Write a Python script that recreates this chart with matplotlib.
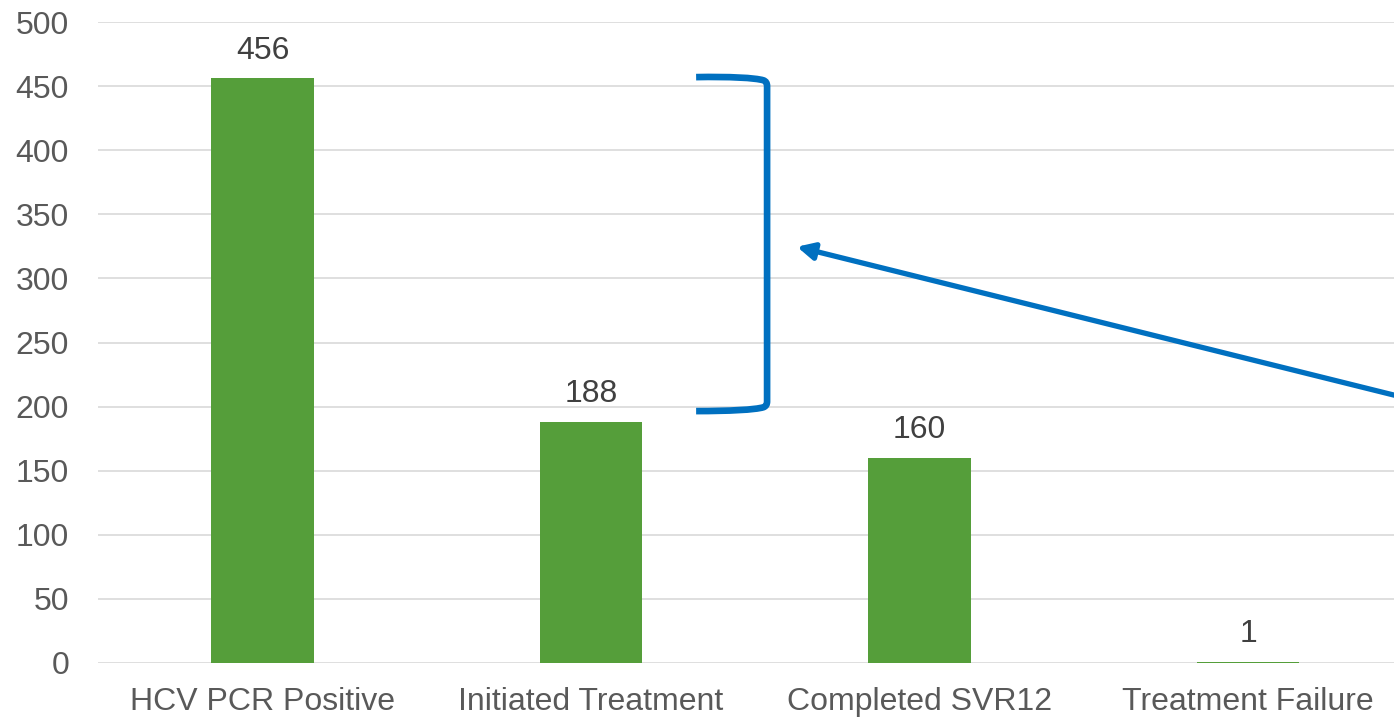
import numpy as np
import matplotlib
matplotlib.use('Agg')
import matplotlib.pyplot as plt
from matplotlib.path import Path
from matplotlib.patches import PathPatch

plt.rcParams['font.family'] = ['Liberation Sans', 'DejaVu Sans']

# cascade of care counts
categories = ['HCV PCR Positive', 'Initiated Treatment', 'Completed SVR12', 'Treatment Failure']
counts = [456, 188, 160, 1]
yticks = [0, 50, 100, 150, 200, 250, 300, 350, 400, 450, 500]

bar_color = '#559E3A'
blue = '#0070C0'

fig = plt.figure(figsize=(13.94, 7.18), dpi=100)
ax = fig.add_axes([98.25 / 1394, 55 / 718, 1314 / 1394, 641 / 718])

x = np.arange(len(categories))
bars = ax.bar(x, counts, width=0.3135, color=bar_color, zorder=3)
for xi, v in zip(x, counts):
    ax.annotate(str(v), (xi, v), xytext=(0, 9), textcoords='offset points',
                ha='center', va='bottom', fontsize=23, color='#404040')

ax.set_xlim(-0.5, 3.5)
ax.set_ylim(0, 500)
ax.set_yticks(yticks)
ax.set_xticks(x)
ax.set_xticklabels(categories)
ax.tick_params(axis='both', length=0, labelsize=23, labelcolor='#595959')
ax.tick_params(axis='y', pad=21)
ax.tick_params(axis='x', pad=17)
ax.grid(axis='y', color='#D9D9D9', linewidth=1.2, zorder=0)
for s in ax.spines.values():
    s.set_visible(False)

# bracket spanning the first two bars
verts = [(1.32, 457), (1.42, 457.5), (1.50, 456.5), (1.525, 454.5),
         (1.536, 453.5), (1.536, 450),
         (1.536, 204),
         (1.536, 200.5), (1.525, 199.5),
         (1.50, 197.5), (1.42, 196.5), (1.32, 196.5)]
codes = [Path.MOVETO, Path.CURVE4, Path.CURVE4, Path.CURVE4,
         Path.CURVE3, Path.CURVE3,
         Path.LINETO,
         Path.CURVE3, Path.CURVE3,
         Path.CURVE4, Path.CURVE4, Path.CURVE4]
ax.add_patch(PathPatch(Path(verts, codes), facecolor='none', edgecolor=blue,
                       linewidth=4.8, capstyle='butt', zorder=4, clip_on=False))

# arrow pointing at the bracket
ax.annotate('', xy=(1.627, 324.7), xytext=(3.499, 205.5),
            arrowprops=dict(arrowstyle='-|>,head_length=1.0,head_width=0.5',
                            color=blue, lw=3.8, shrinkA=0, shrinkB=0),
            annotation_clip=False, zorder=4)

fig.savefig('out.png', dpi=100)
